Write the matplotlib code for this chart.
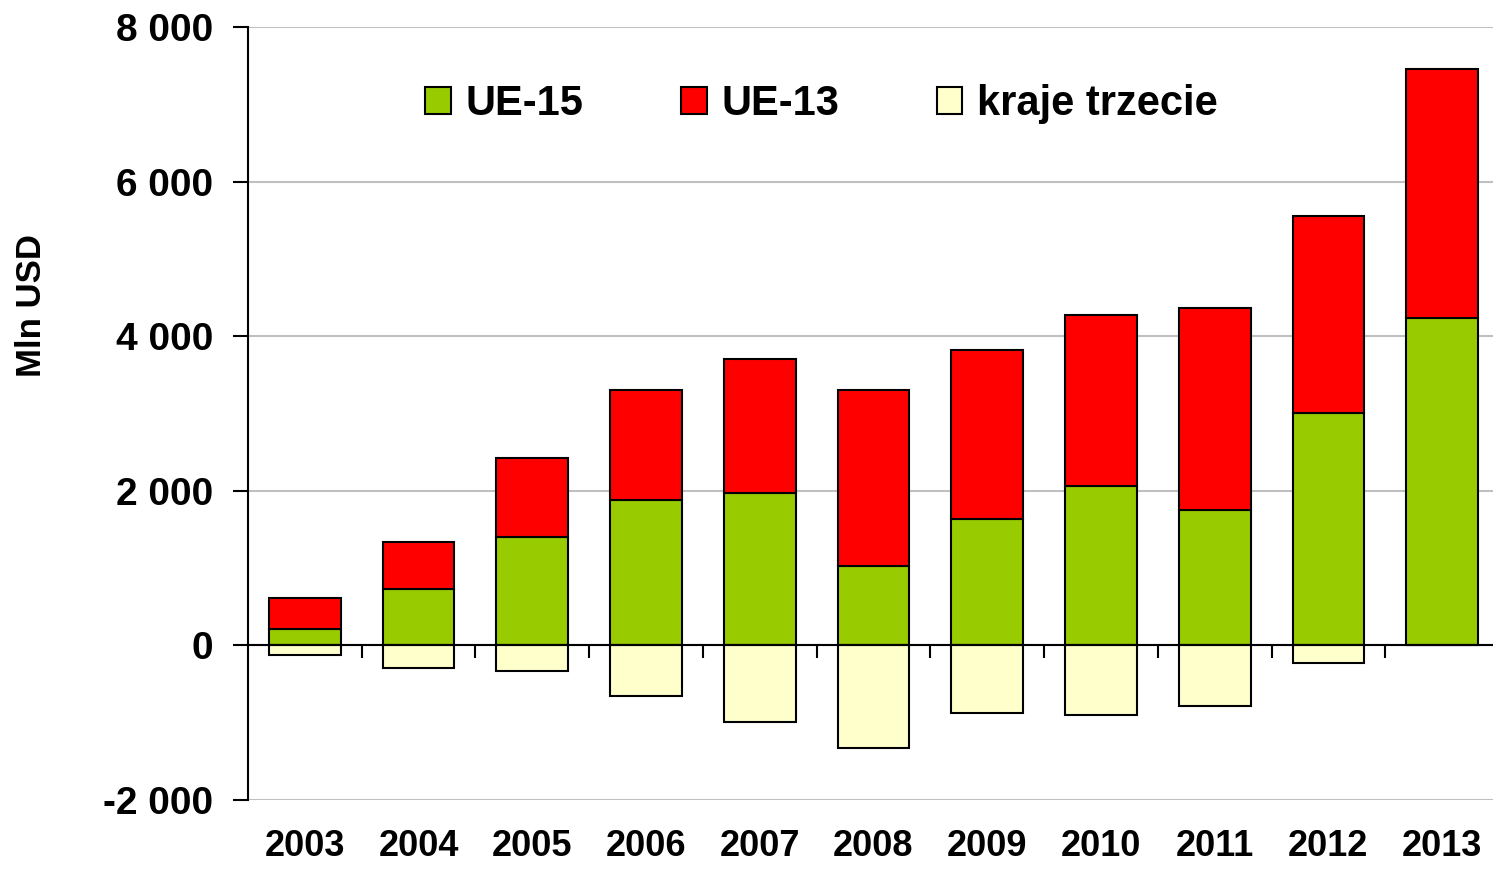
import numpy as np
import matplotlib
matplotlib.use('Agg')
import matplotlib.pyplot as plt
from matplotlib.ticker import FuncFormatter, FixedLocator

plt.rcParams['font.family'] = ['Liberation Sans', 'DejaVu Sans']
plt.rcParams['font.weight'] = 'bold'

years = ['2003', '2004', '2005', '2006', '2007', '2008', '2009', '2010', '2011', '2012', '2013']
ue15 = [207, 725, 1398, 1877, 1968, 1023, 1631, 2058, 1748, 3003, 4233]
total_eu = [608, 1333, 2421, 3301, 3702, 3301, 3819, 4272, 4362, 5553, 7456]
ue13 = [t - a for t, a in zip(total_eu, ue15)]
kraje = [-129, -298, -337, -660, -997, -1333, -880, -906, -790, -233, 0]

fig = plt.figure(figsize=(14.93, 8.72), dpi=100)
ax = fig.add_axes([248 / 1493, 1 - 800 / 872, 1251 / 1493, 773 / 872])

x = np.arange(len(years))
w = 0.63
ax.bar(x, ue15, w, color='#99CC00', edgecolor='black', linewidth=1.5, label='UE-15', zorder=3)
ax.bar(x, ue13, w, bottom=ue15, color='#FF0000', edgecolor='black', linewidth=1.5, label='UE-13', zorder=3)
ax.bar(x, kraje, w, color='#FFFFCC', edgecolor='black', linewidth=1.5, label='kraje trzecie', zorder=3)

ax.set_xlim(-0.5, len(years) - 0.5)
ax.set_ylim(-2000, 8000)
ax.set_yticks(range(-2000, 8001, 2000))
ax.yaxis.set_major_formatter(FuncFormatter(lambda v, p: '{:,}'.format(int(v)).replace(',', ' ')))
ax.yaxis.grid(True, color='#C0C0C0', linewidth=1.5, zorder=0)
ax.set_axisbelow(True)

for s in ['top', 'right']:
    ax.spines[s].set_visible(False)
ax.spines['left'].set_linewidth(1.5)
ax.spines['bottom'].set_position(('data', 0))
ax.spines['bottom'].set_linewidth(1.5)
ax.spines['bottom'].set_zorder(4)

ax.set_xticks(x)
ax.set_xticklabels(years)
ax.xaxis.set_minor_locator(FixedLocator(np.arange(0.5, len(years) - 1, 1.0)))
ax.tick_params(axis='x', which='major', length=0, pad=132, labelsize=26)
ax.tick_params(axis='x', which='minor', length=9, width=1.5, direction='out')
ax.tick_params(axis='y', length=11, width=1.5, pad=14, labelsize=28)

ax.set_ylabel('Mln USD', fontsize=25, fontweight='bold')
ax.yaxis.set_label_coords(-0.16, 0.64)

leg = ax.legend(loc='upper left', bbox_to_anchor=(425 / 1493, 1 - 84 / 872),
                bbox_transform=fig.transFigure, ncol=3, frameon=False,
                fontsize=30, handlelength=0.62, handleheight=0.62,
                handletextpad=0.36, columnspacing=2.33, borderpad=0, borderaxespad=0)

fig.savefig('out.png', dpi=100)
